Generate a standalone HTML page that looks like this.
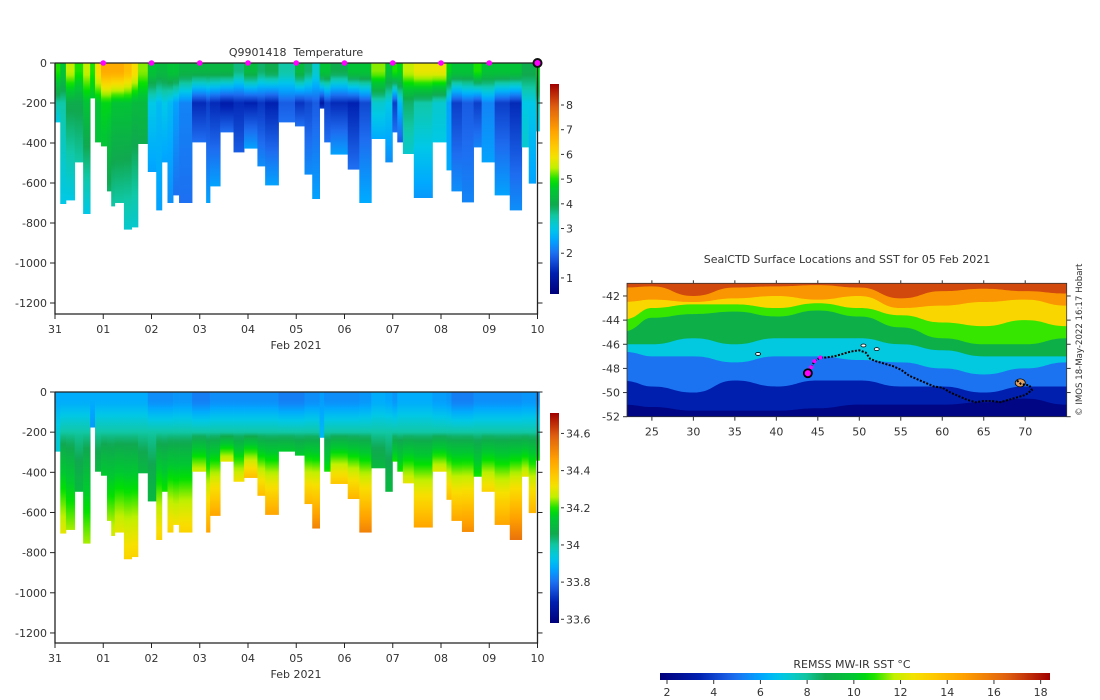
<!DOCTYPE html>
<html><head><meta charset="utf-8">
<style>
html,body{margin:0;padding:0;background:#fff;}
svg{display:block;font-family:"DejaVu Sans","Liberation Sans",sans-serif;}
text{fill:#333;font-size:11px;}
</style></head>
<body>
<svg id="fig" width="1100" height="700" viewBox="0 0 1100 700" xmlns="http://www.w3.org/2000/svg">
<defs id="defs"></defs>
<g id="top"></g>
<g id="bot"></g>
<g id="map"></g>
</svg>
<script>
// ---- profile data ----
const profileStart = [0,.109,.226,.408,.583,.728,.830,.954,1.078,1.165,1.238,1.428,1.588,1.719,1.923,2.098,2.214,2.331,2.447,2.571,2.840,3.132,3.212,3.423,3.700,3.918,4.195,4.355,4.632,4.974,5.171,5.331,5.484,5.579,5.710,6.067,6.307,6.555,6.846,6.992,7.094,7.210,7.436,7.822,8.114,8.216,8.434,8.675,8.842,9.112,9.425,9.672,9.818,9.964];
const profileEnd = 10.04;
const maxDepth = [297,705,687,497,755,177,397,417,642,717,700,833,822,405,545,737,497,700,662,700,397,700,617,347,447,428,517,612,297,317,558,680,228,397,458,533,700,380,497,347,397,455,675,397,537,642,697,422,497,662,737,422,603,342];
const surfT = [5,4.5,5.5,5,5.5,5,6,6.8,6.8,6.8,6.8,6.5,6,5.3,4.5,4.3,4.3,4.5,4.5,4.2,4.2,4.2,4.2,4.2,3.7,4.3,3.8,4,3.5,4.3,3.8,3.2,4.5,4.5,4,4.5,4.5,5.3,4.5,5,4.8,5.5,5.8,5.8,4.8,4.5,4.5,5,4.5,4.5,4.5,4,4,4.8];
const minT = [3.5,3.5,4,4,4.5,4.5,4.5,4.8,4.8,4.5,4.5,4.5,4.3,4.3,3,2.8,3,2.8,2.5,2.2,1.3,1.5,1.3,1.1,1.3,1.2,1.4,1.2,1.8,1.4,1.6,1.8,1.0,1.5,1.3,1.2,1.6,3.2,3,1.5,2.8,3.8,3.5,3.2,2.5,1.5,1.8,1.5,2.2,1.5,1.3,3,3,3.5];
const deepT = [3,3,3,3.5,3,4.5,4.5,4.5,3.8,3.5,3.5,3.2,3.2,4,2.5,2.5,2.5,2.3,2,2,2,2.5,2.5,2,1.8,2.5,2.3,2.5,2,2,2.3,2.5,1.5,2,2.5,2,2.6,2.6,2.3,2,1.8,3.2,2.4,3,2.6,2.3,2.2,2.2,2.5,2.5,2.3,3.2,2.5,3];
const surfS = [33.88,33.88,33.88,33.88,33.88,33.88,33.88,33.88,33.88,33.88,33.88,33.88,33.88,33.88,33.84,33.84,33.84,33.84,33.85,33.85,33.82,33.82,33.84,33.84,33.84,33.84,33.84,33.84,33.82,33.82,33.84,33.84,33.86,33.84,33.84,33.84,33.85,33.88,33.87,33.85,33.88,33.88,33.88,33.86,33.85,33.82,33.82,33.84,33.84,33.84,33.84,33.85,33.85,33.84];
const deepS = [33.95,34.3,34.25,34.1,34.25,33.85,34.1,34.15,34.25,34.28,34.3,34.35,34.35,34.1,34.1,34.35,34.2,34.35,34.32,34.35,34.28,34.45,34.45,34.3,34.32,34.4,34.4,34.45,34.15,34.15,34.42,34.52,33.9,34.2,34.38,34.42,34.52,34.1,34.1,34.2,34.2,34.3,34.45,34.3,34.4,34.45,34.5,34.2,34.35,34.45,34.55,34.3,34.42,34.2];
const dayLabels = ['31','01','02','03','04','05','06','07','08','09','10'];
const depthTicks = [0,200,400,600,800,1000,1200];
const tempTicks = [1,2,3,4,5,6,7,8];
const salTicks = [33.6,33.8,34,34.2,34.4,34.6];
const surfaceDays = [1,2,3,4,5,6,7,8,9];
// ---- map data ----
const isoLons = [22,25,30,35,40,45,50,55,60,65,70,75];
const isoTemps = [15,13,11,9,7,5,3.3,2];
const isoLines = [
 [-41.3,-41.2,-42,-41.3,-41.2,-41.1,-41.3,-42.2,-41.6,-41.4,-41.6,-41.8],
 [-42.5,-42.3,-42.5,-42.2,-42,-42.3,-42,-43,-42.8,-42.5,-42.3,-42.8],
 [-44,-43,-42.7,-42.7,-43,-42.6,-43,-43.6,-44.2,-44.5,-44,-44.5],
 [-45,-43.8,-43.5,-43.3,-43.7,-43.2,-43.7,-44.6,-45.5,-46,-46,-45.5],
 [-46,-46,-45.5,-46,-45.5,-45.5,-45.5,-46,-46.5,-47,-47,-47],
 [-46.6,-47,-47,-47.5,-47,-47,-47.3,-47.5,-48,-48.5,-48,-47.5],
 [-49,-49.5,-50,-49,-49.5,-49,-49,-49.5,-49.5,-50,-49.5,-49.5],
 [-51,-51.2,-51.5,-51.5,-51.5,-51.3,-51,-51,-51,-50.8,-50.5,-51]];
const trackLon = [43.8,44.2,44.6,45.3,46,47,48,49,50,50.8,51.3,52,53,54,55,56,57,58,59,60,61,62,63,64,65,66,67,68,69,70,70.8,70.5,69.5,69];
const trackLat = [-48.4,-47.9,-47.4,-47.1,-47.1,-47,-46.8,-46.6,-46.5,-46.7,-47.2,-47.4,-47.6,-47.8,-48.1,-48.6,-48.9,-49.2,-49.5,-49.6,-50,-50.3,-50.6,-50.8,-50.7,-50.7,-50.8,-50.6,-50.4,-50.2,-49.8,-49.4,-49.3,-49];
const islandLon = [37.8,50.5,52.1,69.4];
const islandLat = [-46.8,-46.1,-46.4,-49.2];
const lonTicks = [25,30,35,40,45,50,55,60,65,70];
const latTicks = [-42,-44,-46,-48,-50,-52];
const sstTicks = [2,4,6,8,10,12,14,16,18];

const NS='http://www.w3.org/2000/svg';
function mk(tag,attrs,parent){const e=document.createElementNS(NS,tag);for(const k in attrs)e.setAttribute(k,attrs[k]);parent.appendChild(e);return e;}
const stops=[[0,'#00007a'],[.1,'#0020b0'],[.19,'#1e6cf0'],[.26,'#00a8ff'],[.31,'#00c8e8'],[.37,'#10c8a8'],[.42,'#10a850'],[.5,'#00c830'],[.54,'#00e000'],[.6,'#c0f000'],[.656,'#f8e000'],[.72,'#ffc000'],[.78,'#ffa000'],[.89,'#e06010'],[1,'#a00000']];
function hx(h){return [parseInt(h.substr(1,2),16),parseInt(h.substr(3,2),16),parseInt(h.substr(5,2),16)];}
function cmap(f){f=Math.max(0,Math.min(1,f));for(let i=1;i<stops.length;i++){if(f<=stops[i][0]){const a=stops[i-1],b=stops[i];const t=(f-a[0])/(b[0]-a[0]);const A=hx(a[1]),B=hx(b[1]);return 'rgb('+A.map((v,j)=>Math.round(v+(B[j]-v)*t)).join(',')+')';}}return stops[stops.length-1][1];}
const defs=document.getElementById('defs');

function section(gid,y0,ppm,vmin,vmax,valFn,cbTicks,cbFmt,title,gname){
  const g=document.getElementById(gid);
  const X0=55,X1=537.5,dayW=(X1-X0)/10;
  const xS=d=>X0+d*dayW; const yS=z=>y0+z*ppm;
  const yBot=y0+251;
  for(let i=0;i<profileStart.length;i++){
    const x1=xS(profileStart[i]),x2=xS(i+1<profileStart.length?profileStart[i+1]:profileEnd);
    const D=maxDepth[i];
    const gr=mk('linearGradient',{id:gid+'g'+i,gradientUnits:'userSpaceOnUse',x1:0,x2:0,y1:yS(0),y2:yS(D)},defs);
    for(let z=0;z<=D;z+=20){const zz=Math.min(z,D);mk('stop',{offset:(zz/D).toFixed(4),'stop-color':cmap((valFn(i,zz)-vmin)/(vmax-vmin))},gr);}
    mk('stop',{offset:1,'stop-color':cmap((valFn(i,D)-vmin)/(vmax-vmin))},gr);
    const r=mk('rect',{x:x1.toFixed(2),y:yS(0),width:(x2-x1+0.4).toFixed(2),height:(D*ppm).toFixed(2),fill:'url(#'+gid+'g'+i+')'},g);
    
    
  }
  const fr=mk('path',{d:`M${X0},${y0} L${X0},${yBot} L${X1},${yBot} L${X1},${y0}`,fill:'none',stroke:'#222','stroke-width':1.3},g);
  
  mk('line',{x1:X0,x2:X1,y1:y0,y2:y0,stroke:'#222','stroke-width':1.3},g);
  depthTicks.forEach(d=>{const y=yS(d);
    mk('line',{x1:X0-5,x2:X0,y1:y,y2:y,stroke:'#222'},g);
    mk('line',{x1:X1,x2:X1+5,y1:y,y2:y,stroke:'#222'},g);
    const t=mk('text',{x:X0-8,y:y+4,'text-anchor':'end'},g);t.textContent=d===0?'0':'-'+d;
    });
  dayLabels.forEach((l,i)=>{const x=xS(i);
    mk('line',{x1:x,x2:x,y1:yBot,y2:yBot+5,stroke:'#222'},g);
    const t=mk('text',{x:x,y:yBot+19,'text-anchor':'middle'},g);t.textContent=l;
    });
  const xl=mk('text',{x:296,y:yBot+35,'text-anchor':'middle'},g);xl.textContent='Feb 2021';
  
  if(title){const t=mk('text',{x:296,y:y0-7,'text-anchor':'middle'},g);t.setAttribute('xml:space','preserve');t.style.whiteSpace='pre';t.textContent=title;
    }
  // colorbar
  const cbT=y0+21,cbB=y0+231,cbX=550;
  const cg=mk('linearGradient',{id:gid+'cb',x1:0,x2:0,y1:1,y2:0},defs);
  for(let k=0;k<=40;k++)mk('stop',{offset:k/40,'stop-color':cmap(k/40)},cg);
  const cb=mk('rect',{x:cbX,y:cbT,width:9,height:cbB-cbT,fill:'url(#'+gid+'cb)'},g);
  
  cbTicks.forEach(v=>{const y=cbB-(v-vmin)/(vmax-vmin)*(cbB-cbT);
    mk('line',{x1:cbX+11,x2:cbX+14,y1:y,y2:y,stroke:'#333'},g);
    const t=mk('text',{x:cbX+16,y:y+4},g);t.textContent=cbFmt(v);
    });
  return xS;
}
function tempAt(i,z){if(z<=50)return surfT[i];if(z<=200)return surfT[i]+(minT[i]-surfT[i])*(z-50)/150;const D=Math.max(maxDepth[i],201);return minT[i]+(deepT[i]-minT[i])*(z-200)/(D-200);}
function salAt(i,z){const mid=Math.min(deepS[i],34.0);if(z<=50)return surfS[i];if(z<=200)return surfS[i]+(mid-surfS[i])*(z-50)/150;const D=Math.max(maxDepth[i],201);return mid+(deepS[i]-mid)*Math.pow((z-200)/(D-200),0.8);}
const xTop=section('top',63,0.2,0.35,8.85,tempAt,tempTicks,v=>String(v),'Q9901418  Temperature','temperature');
section('bot',392,0.2008,33.58,34.71,salAt,salTicks,v=>v.toFixed(1).replace(/\.0$/,''),null,'salinity');
// surface markers
const tg=document.getElementById('top');
surfaceDays.forEach(d=>{const c=mk('circle',{cx:xTop(d),cy:63,r:2.8,fill:'#ff00ff'},tg);
  });
const cur=mk('circle',{cx:xTop(10),cy:63,r:4,fill:'#ff00ff',stroke:'#111','stroke-width':2},tg);


// ---- map ----
const mg=document.getElementById('map');
const MX0=627,MX1=1066.7,MY0=283.3,MY1=416.7,LON0=22,LON1=75,LAT0=-40.95,LAT1=-52;
const mx=l=>MX0+(l-LON0)/(LON1-LON0)*(MX1-MX0);
const my=l=>MY0+(l-LAT0)/(LAT1-LAT0)*(MY1-MY0);
const sst=v=>cmap((v-1.7)/16.7);
const clip=mk('clipPath',{id:'mclip'},defs);
mk('rect',{x:MX0,y:MY0,width:MX1-MX0,height:MY1-MY0},clip);
const bands=mk('g',{'clip-path':'url(#mclip)'},mg);
const bg=mk('rect',{x:MX0,y:MY0,width:MX1-MX0,height:MY1-MY0,fill:sst(17)},bands);

isoLines.forEach((line,k)=>{
  let d='M'+mx(isoLons[0]-1)+','+my(line[0]);
  for(let j=0;j<isoLons.length-1;j++){const xa=mx(isoLons[j]),xb=mx(isoLons[j+1]),ya=my(line[j]),yb=my(line[j+1]);const xm=(xa+xb)/2;d+=` C${xm},${ya} ${xm},${yb} ${xb},${yb}`;}
  d+=` L${mx(76)},${my(line[line.length-1])} L${mx(76)},${MY1+5} L${mx(21)},${MY1+5} Z`;
  const p=mk('path',{d:d,fill:sst(isoTemps[k])},bands);
  
});
islandLon.forEach((l,i)=>{const e=mk('ellipse',{cx:mx(l),cy:my(islandLat[i]),rx:i===3?5:2.5,ry:i===3?4:1.5,fill:i===3?'#e0a060':'#fff',stroke:'#000','stroke-width':0.8},mg);
  });
let tp='';trackLon.forEach((l,i)=>{tp+=(i?' L':'M')+mx(l).toFixed(1)+','+my(trackLat[i]).toFixed(1);});
const trk=mk('path',{d:tp,fill:'none',stroke:'#000','stroke-width':2,'stroke-dasharray':'2 1.5'},mg);

for(let i=1;i<4;i++){const c=mk('circle',{cx:mx(trackLon[i]),cy:my(trackLat[i]),r:2,fill:'#ff00ff'},mg);
  }
const cp=mk('circle',{cx:mx(trackLon[0]),cy:my(trackLat[0]),r:4,fill:'#ff00ff',stroke:'#000','stroke-width':1.8},mg);

const mf=mk('rect',{x:MX0,y:MY0,width:MX1-MX0,height:MY1-MY0,fill:'none',stroke:'#333','stroke-width':0.8},mg);

lonTicks.forEach(l=>{const x=mx(l);mk('line',{x1:x,x2:x,y1:MY1,y2:MY1+4,stroke:'#333'},mg);mk('line',{x1:x,x2:x,y1:MY0,y2:MY0-3,stroke:'#333'},mg);
  const t=mk('text',{x:x,y:MY1+19,'text-anchor':'middle'},mg);t.textContent=l;
  });
latTicks.forEach(l=>{const y=my(l);mk('line',{x1:MX0-4,x2:MX0,y1:y,y2:y,stroke:'#333'},mg);mk('line',{x1:MX1,x2:MX1+4,y1:y,y2:y,stroke:'#333'},mg);
  const t=mk('text',{x:MX0-7,y:y+4,'text-anchor':'end'},mg);t.textContent=l;
  });
const mt=mk('text',{x:847,y:263,'text-anchor':'middle'},mg);mt.textContent='SealCTD Surface Locations and SST for 05 Feb 2021';

const cpy=mk('text',{x:1082,y:416,transform:'rotate(-90 1082 416)',style:'font-size:8.6px'},mg);cpy.textContent='© IMOS 18-May-2022 16:17 Hobart';

// SST colorbar
const sg=mk('linearGradient',{id:'sstcb',x1:0,x2:1,y1:0,y2:0},defs);
for(let k=0;k<=40;k++)mk('stop',{offset:k/40,'stop-color':cmap(k/40)},sg);
const scb=mk('rect',{x:660,y:673,width:390,height:7,fill:'url(#sstcb)'},mg);

const sx=v=>660+(v-1.7)/16.7*390;
sstTicks.forEach(v=>{mk('line',{x1:sx(v),x2:sx(v),y1:680,y2:684,stroke:'#333'},mg);
  const t=mk('text',{x:sx(v),y:696,'text-anchor':'middle'},mg);t.textContent=v;
  });
const st=mk('text',{x:852,y:668,'text-anchor':'middle'},mg);st.textContent='REMSS MW-IR SST °C';

</script>
</body></html>
